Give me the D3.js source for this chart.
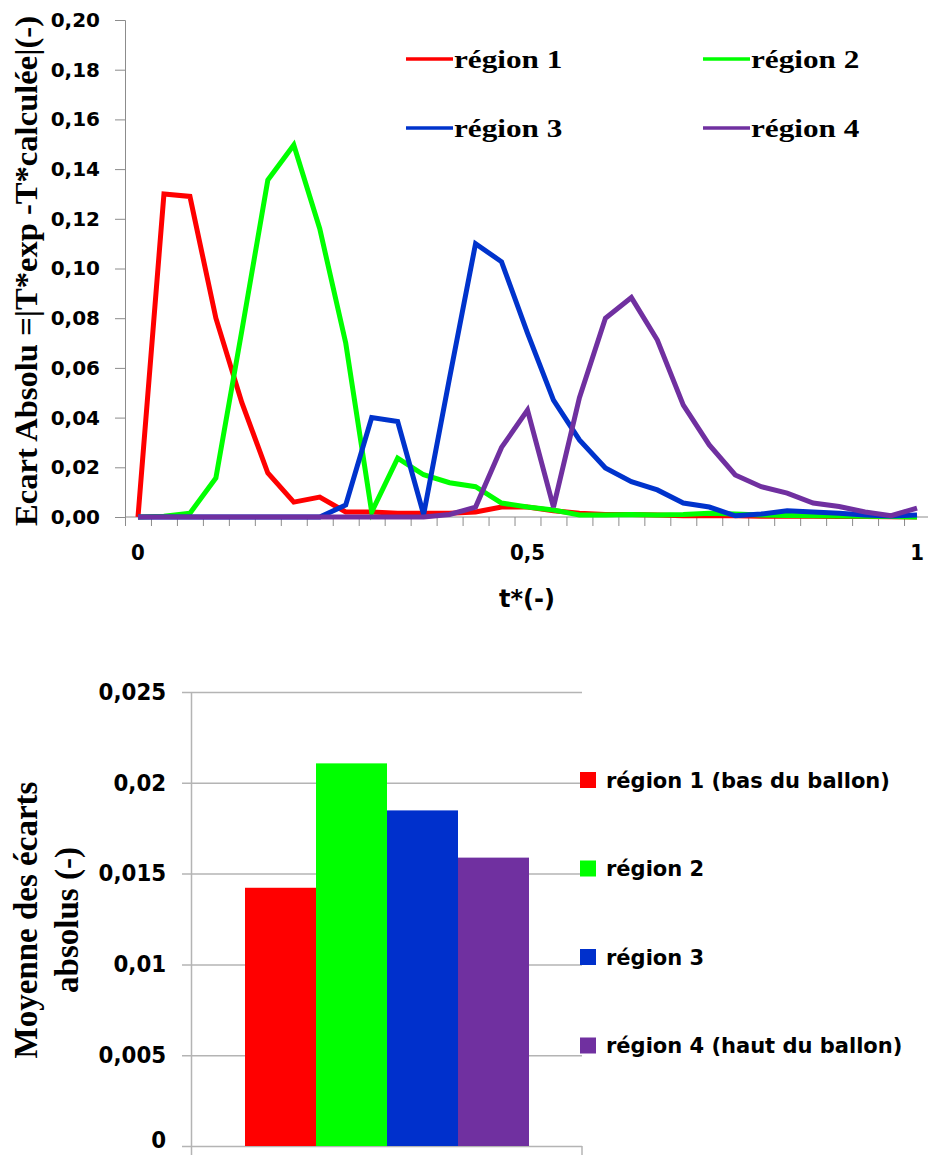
<!DOCTYPE html>
<html>
<head>
<meta charset="utf-8">
<script src="https://cdn.jsdelivr.net/npm/d3@7"></script>
<style>
  body { margin: 0; background: #fff; }
  svg { display: block; }
</style>
</head>
<body>
<svg id="chart" width="928" height="1155"></svg>
<script>
// --- data ---
const steps = d3.range(31);           // t* = 0 .. 1 in 30 steps
const xTickIndex = [0, 15, 30];
const xTickLabels = ["0", "0,5", "1"];
const yTopTicks = [0, 0.02, 0.04, 0.06, 0.08, 0.10, 0.12, 0.14, 0.16, 0.18, 0.20];

const region1 = [0, 0.130, 0.129, 0.080, 0.046, 0.0177, 0.006, 0.008, 0.002, 0.002,
  0.0015, 0.0015, 0.0015, 0.002, 0.004, 0.004, 0.0025, 0.0015, 0.001, 0.001,
  0.0008, 0.0005, 0.0005, 0.0005, 0.0003, 0.0003, 0.0003, 0.0002, 0.0002, 0.0001, 0];
const region2 = [0, 0.0003, 0.0015, 0.0157, 0.075, 0.1356, 0.1497, 0.116, 0.070, 0.002,
  0.0237, 0.017, 0.0138, 0.0122, 0.0056, 0.004, 0.0028, 0.0008, 0.0008, 0.001,
  0.0008, 0.001, 0.0015, 0.0012, 0.0008, 0.0006, 0.0005, 0.0004, 0.0003, 0.0002, 0];
const region3 = [0, 0, 0, 0, 0, 0, 0, 0, 0.0048, 0.040,
  0.0384, 0.001, 0.056, 0.110, 0.1027, 0.074, 0.047, 0.031, 0.0197, 0.0142,
  0.0109, 0.0056, 0.004, 0.0005, 0.0012, 0.0025, 0.002, 0.0015, 0.0008, 0.0004, 0.0008];
const region4 = [0, 0, 0, 0, 0, 0, 0, 0, 0, 0,
  0, 0, 0.001, 0.004, 0.028, 0.043, 0.004, 0.048, 0.080, 0.0883,
  0.0712, 0.045, 0.029, 0.0169, 0.0122, 0.0096, 0.0056, 0.0042, 0.002, 0.0005, 0.0036];

const lineNames = ["région 1", "région 2", "région 3", "région 4"];
const lineColors = ["#ff0000", "#00ff00", "#0033cc", "#7030a0"];

const barNames = ["région 1 (bas du ballon)", "région 2", "région 3", "région 4 (haut du ballon)"];
const barValues = [0.01422, 0.02107, 0.01848, 0.01588];
const barColors = ["#ff0000", "#00ff00", "#0030cc", "#7030a0"];
const yBotTicks = [0, 0.005, 0.01, 0.015, 0.02, 0.025];

const svg = d3.select("#chart");
const comma = s => s.replace(".", ",");
const axisGrey = "#8c8c8c";

// ================= top chart : lines =================
const xTop = d3.scaleBand().domain(steps).range([125, 930]);
const xEdge = d3.scaleLinear().domain([0, steps.length]).range([125, 930]);
const yTop = d3.scaleLinear().domain([0, 0.2]).range([517, 20]);
const cx = i => xTop(i) + xTop.bandwidth() / 2;

const topG = svg.append("g");

// y axis
const yAxisTop = topG.append("g")
  .attr("transform", "translate(125,0)")
  .call(d3.axisLeft(yTop).tickValues(yTopTicks).tickSize(10).tickPadding(15)
    .tickFormat(d => comma(d3.format(".2f")(d))));
yAxisTop.selectAll("text")
  .attr("font-family", "DejaVu Sans").attr("font-weight", "bold")
  .attr("font-size", 20).attr("fill", "#000");

// x axis: tick marks on category edges
const xAxisTop = topG.append("g")
  .attr("transform", "translate(0,517)")
  .call(d3.axisBottom(xEdge).tickValues(d3.range(steps.length + 1)).tickSize(9).tickFormat(""));
xAxisTop.select(".domain").attr("d", "M125,0H930");

// x labels at category centres
const xLabels = topG.append("g")
  .attr("transform", "translate(0,517)")
  .call(d3.axisBottom(xTop).tickValues(xTickIndex).tickSize(0).tickPadding(27)
    .tickFormat((d, i) => xTickLabels[i]));
xLabels.select(".domain").remove();
xLabels.selectAll(".tick").attr("transform", d => `translate(${cx(d)},0)`);
xLabels.selectAll("text")
  .attr("font-family", "DejaVu Sans").attr("font-weight", "bold")
  .attr("font-size", 22).attr("fill", "#000")
  .attr("transform", "scale(0.9,1)");

[yAxisTop, xAxisTop].forEach(a => {
  a.selectAll("line").attr("stroke", axisGrey);
  a.select(".domain").attr("stroke", axisGrey);
});

// titles
topG.append("text")
  .attr("transform", "translate(527,600)")
  .attr("text-anchor", "middle").attr("dominant-baseline", "middle")
  .attr("font-family", "DejaVu Sans").attr("font-weight", "bold").attr("font-size", 24)
  .text("t*(-)");

topG.append("text")
  .attr("transform", "translate(37,271) rotate(-90)")
  .attr("text-anchor", "middle")
  .attr("font-family", "Liberation Serif").attr("font-weight", "bold").attr("font-size", 32)
  .attr("textLength", 510).attr("lengthAdjust", "spacingAndGlyphs")
  .text("Ecart Absolu =|T*exp -T*calculée|(-)");

// lines
const seriesTop = [region1, region2, region3, region4];
const line = d3.line().x((d, i) => cx(i)).y(d => yTop(d));
topG.selectAll("path.serie")
  .data(seriesTop)
  .join("path")
  .attr("class", "serie")
  .attr("fill", "none")
  .attr("stroke", (d, i) => lineColors[i])
  .attr("stroke-width", 5)
  .attr("stroke-linejoin", "miter")
  .attr("d", line);

// legend (2 columns)
const legTop = topG.selectAll("g.leg")
  .data(lineNames)
  .join("g")
  .attr("class", "leg")
  .attr("transform", (d, i) => `translate(${406 + (i % 2) * 297},${59 + Math.floor(i / 2) * 69})`);
legTop.append("line")
  .attr("x1", 0).attr("x2", 47).attr("y1", 0).attr("y2", 0)
  .attr("stroke", (d, i) => lineColors[i]).attr("stroke-width", 3.5);
legTop.append("text")
  .attr("transform", "translate(48,9) scale(1.2,1)")
  .attr("font-family", "Liberation Serif").attr("font-weight", "bold").attr("font-size", 26)
  .text(d => d);

// ================= bottom chart : bars =================
const yBot = d3.scaleLinear().domain([0, 0.025]).range([1146, 692]);
const xBar = d3.scaleBand().domain(barNames).range([245, 529]);

const botG = svg.append("g");

// gridlines + labels
const yAxisBot = botG.append("g")
  .attr("transform", "translate(182,0)")
  .call(d3.axisRight(yBot).tickValues(yBotTicks).tickSize(400).tickPadding(0)
    .tickFormat(d => comma(String(+d.toFixed(3)))));
yAxisBot.select(".domain").remove();
yAxisBot.selectAll("line").attr("stroke", "#b4b4b4").attr("stroke-width", 1.5);
yAxisBot.selectAll("text")
  .attr("x", -17).attr("text-anchor", "end")
  .attr("font-family", "DejaVu Sans").attr("font-weight", "bold")
  .attr("font-size", 23).attr("fill", "#000")
  .attr("transform", "scale(0.93,1)");
// keep the "0" label inside the frame
yAxisBot.selectAll("text").filter(d => d === 0).attr("dy", "0.05em");

// axis lines
botG.append("line").attr("x1", 191.5).attr("x2", 191.5).attr("y1", 692).attr("y2", 1155)
  .attr("stroke", "#b4b4b4").attr("stroke-width", 1.5);
botG.append("line").attr("x1", 582).attr("x2", 582).attr("y1", 1146).attr("y2", 1155)
  .attr("stroke", "#b4b4b4").attr("stroke-width", 1.5);

// bars
botG.selectAll("rect.bar")
  .data(barValues)
  .join("rect")
  .attr("class", "bar")
  .attr("x", (d, i) => xBar(barNames[i]))
  .attr("width", xBar.bandwidth())
  .attr("y", d => yBot(d))
  .attr("height", d => yBot(0) - yBot(d))
  .attr("fill", (d, i) => barColors[i]);

// y title (two lines)
const yt = botG.append("text")
  .attr("transform", "translate(0,920) rotate(-90)")
  .attr("text-anchor", "middle")
  .attr("font-family", "Liberation Serif").attr("font-weight", "bold").attr("font-size", 33);
yt.append("tspan").attr("x", 0).attr("y", 37).text("Moyenne des écarts");
yt.append("tspan").attr("x", 0).attr("y", 78).text("absolus (-)");

// legend
const legBot = botG.selectAll("g.legb")
  .data(barNames)
  .join("g")
  .attr("class", "legb")
  .attr("transform", (d, i) => `translate(580,${780 + i * 88.5})`);
legBot.append("rect")
  .attr("x", 0).attr("y", -8).attr("width", 16).attr("height", 16)
  .attr("fill", (d, i) => barColors[i]);
legBot.append("text")
  .attr("x", 26).attr("y", 0).attr("dy", "0.36em")
  .attr("font-family", "DejaVu Sans").attr("font-weight", "bold").attr("font-size", 21)
  .text(d => d);
</script>
</body>
</html>
